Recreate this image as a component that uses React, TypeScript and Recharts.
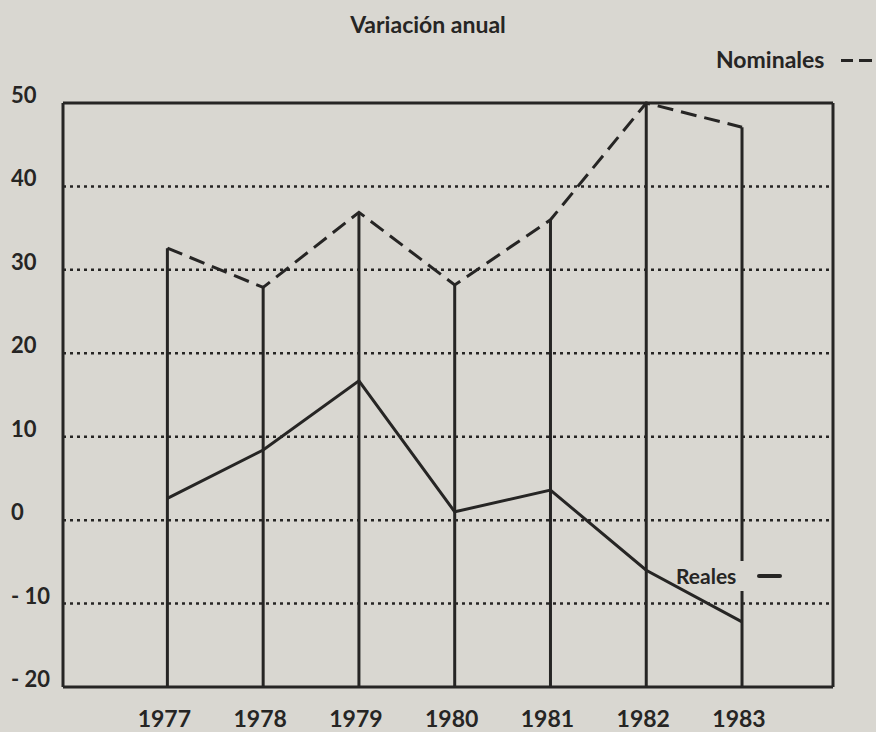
import React from "react";
import {
  LineChart, Line, XAxis, YAxis, CartesianGrid, ReferenceLine,
} from "recharts";

const years = [1977, 1978, 1979, 1980, 1981, 1982, 1983];
const nominales = [32.6, 27.9, 36.9, 28.2, 36.0, 50, 47.1];
const reales = [2.6, 8.4, 16.7, 1.0, 3.6, -6.0, -12.2];
const yTicks = [50, 40, 30, 20, 10, 0, -10, -20];

const data = years.map((year, i) => ({
  year,
  nominales: nominales[i],
  reales: reales[i],
}));

const INK = "#262524";
const BG = "#d9d7d1";
const FONT = "Lato, 'Open Sans', sans-serif";

const YTick = ({ y, payload }: any) => {
  const v = payload.value as number;
  return (
    <text x={11} y={y} fill={INK} fontFamily={FONT} fontWeight={700} fontSize={22}>
      {v < 0 ? `- ${-v}` : `${v}`}
    </text>
  );
};

const XTick = ({ x, y, payload }: any) => (
  <text x={x - 3} y={y} dy={32} textAnchor="middle" fill={INK} fontFamily={FONT} fontWeight={700} fontSize={23}>
    {payload.value}
  </text>
);

export default function App() {
  return (
    <div style={{ position: "absolute", left: 0, top: 0, width: 876, height: 732, background: BG, fontFamily: FONT, color: INK }}>
      <LineChart width={876} height={732} data={data} margin={{ top: 102, right: 42, left: 62, bottom: 0 }}>
        <CartesianGrid vertical={false} horizontalValues={[40, 30, 20, 10, 0, -10]} stroke={INK} strokeWidth={2.5} strokeDasharray="3 4" />
        <XAxis
          dataKey="year"
          type="number"
          domain={[1975.91, 1983.95]}
          ticks={years}
          height={45}
          axisLine={{ stroke: INK, strokeWidth: 3 }}
          tickLine={false}
          tick={<XTick />}
        />
        <XAxis xAxisId="top" orientation="top" dataKey="year" type="number" domain={[1975.91, 1983.95]} height={1} axisLine={{ stroke: INK, strokeWidth: 3 }} tickLine={false} tick={false} />
        <YAxis
          domain={[-20, 50]}
          ticks={yTicks}
          width={1}
          axisLine={{ stroke: INK, strokeWidth: 3 }}
          tickLine={false}
          tick={<YTick />}
          interval={0}
        />
        <YAxis yAxisId="right" orientation="right" domain={[-20, 50]} width={1} axisLine={{ stroke: INK, strokeWidth: 3 }} tickLine={false} tick={false} />
        {data.map((d) => (
          <ReferenceLine
            key={d.year}
            segment={[{ x: d.year, y: -20 }, { x: d.year, y: d.nominales }]}
            stroke={INK}
            strokeWidth={3}
          />
        ))}
        <Line type="linear" dataKey="nominales" stroke={INK} strokeWidth={3} strokeDasharray="16 8" dot={false} isAnimationActive={false} />
        <Line type="linear" dataKey="reales" stroke={INK} strokeWidth={3} dot={false} isAnimationActive={false} />
      </LineChart>
      <div style={{ position: "absolute", left: 0, width: 856, top: 10, textAlign: "center", fontSize: 23, fontWeight: 700 }}>
        Variación anual
      </div>
      <div style={{ position: "absolute", left: 716, top: 45, fontSize: 23, fontWeight: 700, whiteSpace: "nowrap" }}>
        Nominales
      </div>
      <div style={{ position: "absolute", left: 841, top: 59, width: 12, height: 3, background: INK }} />
      <div style={{ position: "absolute", left: 859, top: 59, width: 13, height: 3, background: INK }} />
      <div style={{ position: "absolute", left: 737, top: 561, width: 10, height: 30, background: BG }} />
      <div style={{ position: "absolute", left: 676, top: 563, fontSize: 21, fontWeight: 700 }}>
        Reales
      </div>
      <div style={{ position: "absolute", left: 757, top: 574, width: 25, height: 4, background: INK, borderRadius: 2 }} />
    </div>
  );
}
